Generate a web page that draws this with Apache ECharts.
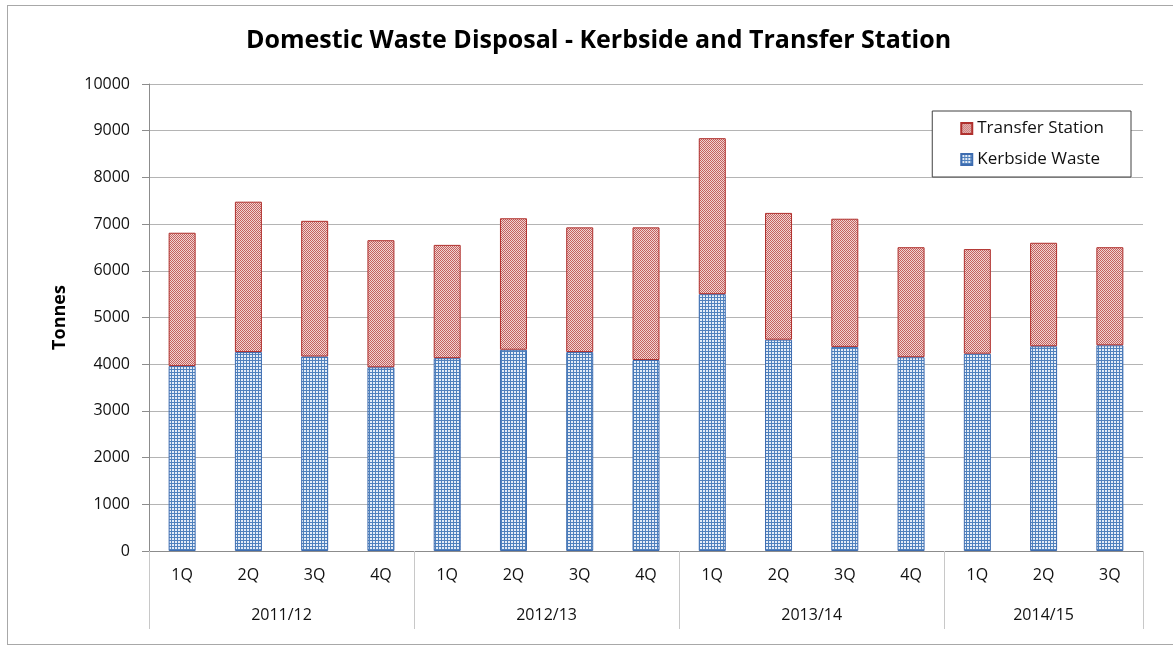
<!DOCTYPE html>
<html>
<head>
<meta charset="utf-8">
<script src="https://cdn.jsdelivr.net/npm/echarts@6/dist/echarts.min.js"></script>
<style>
  html, body { margin: 0; padding: 0; background: #fff; }
  #frame { position: absolute; left: 7px; top: 5px; width: 1180px; height: 638px; border: 1px solid #a8a8a8; border-right: none; }
  #chart { position: absolute; left: 0; top: 0; width: 1173px; height: 648px; }
</style>
</head>
<body>
<div id="frame"></div>
<div id="chart"></div>
<script>
const quarters = ["1Q", "2Q", "3Q", "4Q", "1Q", "2Q", "3Q", "4Q", "1Q", "2Q", "3Q", "4Q", "1Q", "2Q", "3Q"];
const years = ["2011/12", "2012/13", "2013/14", "2014/15"];
const yearSpans = [4, 4, 4, 3];
const kerbside = [3960, 4260, 4165, 3935, 4130, 4310, 4260, 4090, 5500, 4525, 4370, 4150, 4225, 4385, 4405];
const transfer = [2855, 3220, 2905, 2720, 2425, 2815, 2670, 2840, 3340, 2715, 2745, 2355, 2240, 2215, 2100];

function makePattern(size, bg, fg, draw) {
  const c = document.createElement("canvas");
  c.width = size;
  c.height = size;
  const ctx = c.getContext("2d");
  ctx.fillStyle = bg;
  ctx.fillRect(0, 0, size, size);
  ctx.fillStyle = fg;
  draw(ctx);
  return { image: c, repeat: "repeat" };
}

const kerbFill = makePattern(3, "#e4ecf7", "#4f81bd", ctx => {
  ctx.fillRect(0, 0, 3, 1);
  ctx.fillRect(0, 0, 1, 3);
});
const transferFill = makePattern(2, "#f0d4d3", "#c4615e", ctx => {
  ctx.fillRect(0, 0, 1, 1);
  ctx.fillRect(1, 1, 1, 1);
});

// year group boundaries and label centres on the 0..15 scale
const yearBounds = [0];
const yearCentres = [];
yearSpans.forEach(span => {
  const start = yearBounds[yearBounds.length - 1];
  yearCentres.push(start + span / 2);
  yearBounds.push(start + span);
});

const font = "'Open Sans', 'Noto Sans', sans-serif";
const chart = echarts.init(document.getElementById("chart"));
chart.setOption({
  animation: false,
  backgroundColor: "transparent",
  title: {
    text: "Domestic Waste Disposal - Kerbside and Transfer Station",
    left: 241,
    top: 23,
    textStyle: { fontFamily: font, fontSize: 25, fontWeight: "bold", color: "#000" },
  },
  legend: {
    orient: "vertical",
    right: 42,
    top: 111,
    data: ["Transfer Station", "Kerbside Waste"],
    icon: "rect",
    itemWidth: 11,
    itemHeight: 11,
    itemGap: 14,
    padding: [9, 27, 9, 28],
    borderColor: "#404040",
    borderWidth: 1,
    backgroundColor: "#fff",
    textStyle: { fontFamily: font, fontSize: 17, color: "#111" },
  },
  grid: { left: 149, right: 30, top: 84, bottom: 97 },
  xAxis: [
    {
      type: "category",
      data: quarters,
      axisLine: { lineStyle: { color: "#8c8c8c", width: 1 } },
      axisTick: { interval: 0, length: 40, lineStyle: { color: "#c8c8c8" } },
      axisLabel: { interval: 0, margin: 16, fontFamily: font, fontSize: 16, color: "#111" },
    },
    {
      type: "value",
      position: "bottom",
      min: 0,
      max: quarters.length,
      axisLine: { show: false },
      splitLine: { show: false },
      axisTick: { show: true, customValues: yearBounds, length: 78, lineStyle: { color: "#c8c8c8" } },
      axisLabel: {
        customValues: yearCentres,
        margin: 56,
        fontFamily: font,
        fontSize: 16,
        color: "#111",
        formatter: v => years[yearCentres.indexOf(v)] || "",
      },
    },
  ],
  yAxis: {
    type: "value",
    min: 0,
    max: 10000,
    interval: 1000,
    name: "Tonnes",
    nameLocation: "middle",
    nameGap: 80,
    nameRotate: 90,
    nameTextStyle: { fontFamily: font, fontSize: 18, fontWeight: "bold", color: "#000" },
    axisLine: { show: true, lineStyle: { color: "#8c8c8c" } },
    axisTick: { show: true, length: 7, lineStyle: { color: "#8c8c8c" } },
    axisLabel: { margin: 19, fontFamily: font, fontSize: 16, color: "#111", formatter: v => String(v) },
    splitLine: { lineStyle: { color: "#b4b4b4" } },
  },
  series: [
    {
      name: "Kerbside Waste",
      type: "bar",
      stack: "total",
      barWidth: 27,
      data: kerbside,
      itemStyle: { color: kerbFill, borderColor: "#3d6cb0", borderWidth: 1 },
    },
    {
      name: "Transfer Station",
      type: "bar",
      stack: "total",
      barWidth: 27,
      data: transfer,
      itemStyle: { color: transferFill, borderColor: "#b0302d", borderWidth: 1 },
    },
  ],
});
</script>
</body>
</html>
